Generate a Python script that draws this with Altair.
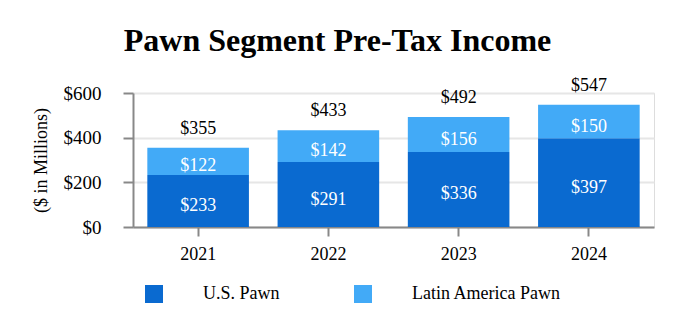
import altair as alt
import pandas as pd

years = ["2021", "2022", "2023", "2024"]
us_pawn = [233, 291, 336, 397]
latam_pawn = [122, 142, 156, 150]
totals = [355, 433, 492, 547]
series_names = ["U.S. Pawn", "Latin America Pawn"]
colors = ["#0A6AD0", "#42AAF7"]

rows = []
for y, u, l in zip(years, us_pawn, latam_pawn):
    rows.append({"year": y, "series": series_names[0], "value": u, "order": 0,
                 "start": 0, "end": u, "mid": u / 2})
    rows.append({"year": y, "series": series_names[1], "value": l, "order": 1,
                 "start": u, "end": u + l, "mid": u + l / 2})
df = pd.DataFrame(rows)
tot = pd.DataFrame({"year": years, "total": totals})

FONT = "Liberation Serif"

x = alt.X("year:N", title=None, sort=years,
          scale=alt.Scale(paddingInner=0.22, paddingOuter=0.11),
          axis=alt.Axis(labelAngle=0, labelFontSize=18, labelFont=FONT, labelColor="#000",
                        domainColor="#888", domainWidth=2, tickColor="#888", tickWidth=2,
                        tickSize=9, labelPadding=9, grid=False))

bars = alt.Chart(df).mark_bar().encode(
    x=x,
    y=alt.Y("start:Q", title="($ in Millions)",
            scale=alt.Scale(domain=[0, 600], nice=False),
            axis=alt.Axis(values=[0, 200, 400, 600], format="$,d", labelFontSize=19,
                          labelFont=FONT, labelColor="#000", titleFont=FONT,
                          titleFontSize=18, titleFontWeight="normal", titleColor="#000",
                          titlePadding=13, domainColor="#888", domainWidth=2,
                          tickColor="#888", tickWidth=2, tickSize=10, labelPadding=22,
                          gridColor="#e6e6e6", gridWidth=2)),
    y2="end:Q",
    color=alt.Color("series:N", sort=series_names,
                    scale=alt.Scale(domain=series_names, range=colors),
                    legend=alt.Legend(title=None, orient="none", direction="horizontal",
                                      legendX=12, legendY=192, symbolType="square",
                                      symbolSize=324, symbolStrokeWidth=0,
                                      labelFont=FONT, labelFontSize=18, labelColor="#000",
                                      labelOffset=40, columnPadding=74, symbolOpacity=1)),
)

inner = alt.Chart(df).mark_text(font=FONT, fontSize=18, color="white", baseline="middle", dy=5).encode(
    x=alt.X("year:N", sort=years),
    y=alt.Y("mid:Q"),
    text=alt.Text("value:Q", format="$,d"),
)

top = alt.Chart(tot).mark_text(font=FONT, fontSize=18, color="black", baseline="middle", dy=-19).encode(
    x=alt.X("year:N", sort=years),
    y=alt.Y("total:Q"),
    text=alt.Text("total:Q", format="$,d"),
)

chart = alt.layer(bars, inner, top).properties(
    width=521, height=134,
    autosize=alt.AutoSizeParams(type="none"),
    padding={"left": 133, "top": 93, "right": 26, "bottom": 99},
    title=alt.TitleParams("Pawn Segment Pre-Tax Income", font=FONT, fontSize=32,
                          fontWeight="bold", color="#000", anchor="middle", dx=-56,
                          offset=-13, baseline="bottom"),
).configure_view(stroke=None).configure(background="white")

chart.save("out.html", embed_options={"renderer": "svg", "actions": False})
